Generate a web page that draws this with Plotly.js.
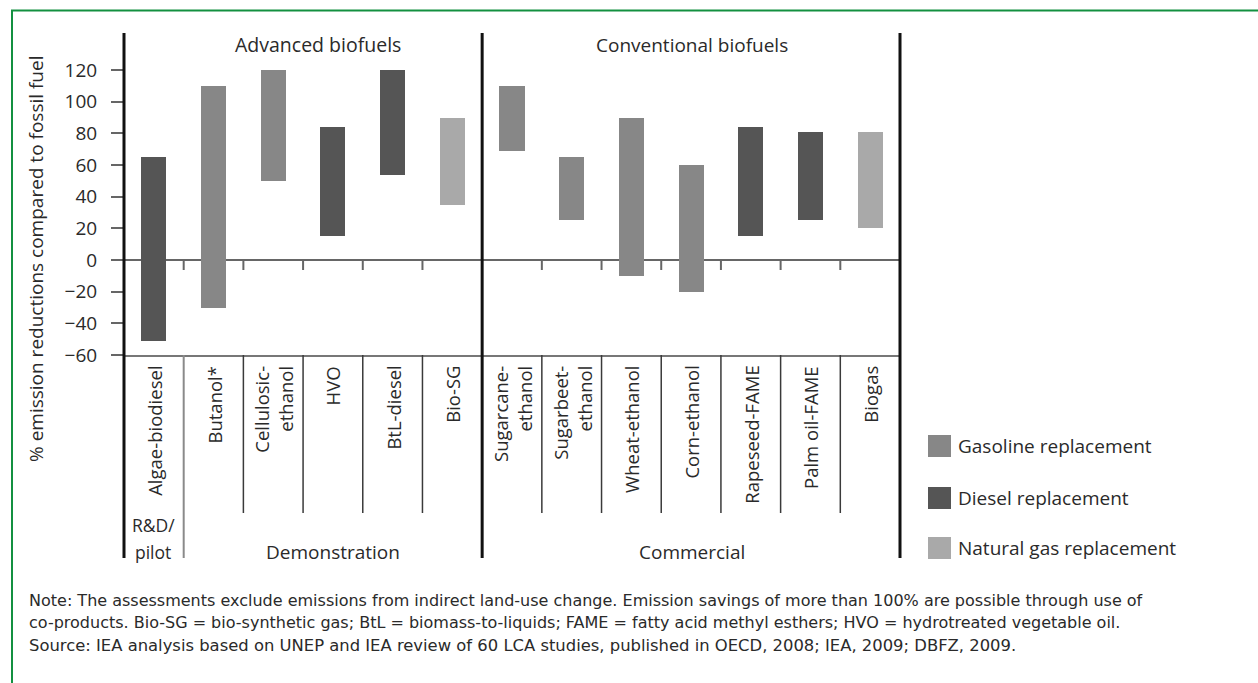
<!DOCTYPE html>
<html>
<head>
<meta charset="utf-8">
<script src="https://cdn.plot.ly/plotly-3.0.1.min.js"></script>
<style>html,body{margin:0;padding:0;background:#fff;}#chart{width:1258px;height:683px;}</style>
</head>
<body>
<div id="chart"></div>
<script>
// ---- data ----
const categories = ['Algae-biodiesel', 'Butanol*', 'Cellulosic-<br>ethanol', 'HVO', 'BtL-diesel', 'Bio-SG',
  'Sugarcane-<br>ethanol', 'Sugarbeet-<br>ethanol', 'Wheat-ethanol', 'Corn-ethanol', 'Rapeseed-FAME', 'Palm oil-FAME', 'Biogas'];
const lowValues  = [-51, -30, 50, 15, 54, 35, 69, 25, -10, -20, 15, 25, 20];
const highValues = [65, 110, 120, 84, 120, 90, 110, 65, 90, 60, 84, 81, 81];
const fuelType = ['Diesel', 'Gasoline', 'Gasoline', 'Diesel', 'Diesel', 'Natural gas',
  'Gasoline', 'Gasoline', 'Gasoline', 'Gasoline', 'Diesel', 'Diesel', 'Natural gas'];
const seriesNames = ['Gasoline', 'Diesel', 'Natural gas'];
const legendLabels = ['Gasoline replacement', 'Diesel replacement', 'Natural gas replacement'];
const yTickValues = [-60, -40, -20, 0, 20, 40, 60, 80, 100, 120];
const groupTitles = ['Advanced biofuels', 'Conventional biofuels'];
const stageLabels = ['R&D/', 'pilot', 'Demonstration', 'Commercial'];
const noteLines = [
  'Note: The assessments exclude emissions from indirect land-use change. Emission savings of more than 100% are possible through use of',
  'co-products. Bio-SG = bio-synthetic gas; BtL = biomass-to-liquids; FAME = fatty acid methyl esthers; HVO = hydrotreated vegetable oil.',
  'Source: IEA analysis based on UNEP and IEA review of 60 LCA studies, published in OECD, 2008; IEA, 2009; DBFZ, 2009.'
];

// ---- styles / layout helpers ----
const colors = {'Gasoline': '#878787', 'Diesel': '#555555', 'Natural gas': '#a9a9a9'};
const FONT = 'Open Sans, Noto Sans, sans-serif';
const NOTEFONT = 'DejaVu Sans, sans-serif';
const TXT = '#2a2a2a';
const L = 124, R = 900, T = 33, B = 355;
const PX = p => (p - L) / (R - L);
const PY = p => (B - p) / (B - T);
const nCat = categories.length;

const traces = seriesNames.map(name => {
  const xs = [], ys = [], bases = [];
  categories.forEach((c, i) => {
    if (fuelType[i] === name) {
      xs.push(i);
      bases.push(lowValues[i]);
      ys.push(highValues[i] - lowValues[i]);
    }
  });
  return {
    type: 'bar', name: name, x: xs, y: ys, base: bases, width: 0.42,
    marker: {color: colors[name], line: {width: 0}},
    showlegend: false, hoverinfo: 'skip'
  };
});

const shapes = [];
const annotations = [];

// green frame
shapes.push({type: 'rect', xref: 'paper', yref: 'paper', x0: PX(12), x1: PX(1262), y0: PY(10.5), y1: PY(700),
  line: {color: '#139040', width: 2}, fillcolor: 'rgba(0,0,0,0)', layer: 'below'});

// main vertical lines (axis, divider, right)
[0, 6, 13].forEach(k => {
  shapes.push({type: 'line', xref: 'paper', yref: 'paper', x0: k / nCat, x1: k / nCat, y0: 1, y1: PY(558),
    line: {color: '#111', width: 3}});
});
// separator after R&D column
shapes.push({type: 'line', xref: 'paper', yref: 'paper', x0: 1 / nCat, x1: 1 / nCat, y0: 0, y1: PY(558),
  line: {color: '#8a8a8a', width: 2}});
// label separators and zero-line ticks
for (let k = 1; k < nCat; k++) {
  if (k === 6) continue;
  if (k !== 1) {
    shapes.push({type: 'line', xref: 'paper', yref: 'paper', x0: k / nCat, x1: k / nCat, y0: 0, y1: PY(513),
      line: {color: '#3a3a3a', width: 1.5}});
  }
  shapes.push({type: 'line', xref: 'paper', yref: 'paper', x0: k / nCat, x1: k / nCat, y0: PY(260), y1: PY(270),
    line: {color: '#666', width: 2}, layer: 'below'});
}

// category labels
categories.forEach((c, i) => {
  annotations.push({xref: 'x', yref: 'paper', x: i, y: PY(364), text: c, textangle: -90,
    xanchor: 'center', yanchor: 'top', align: 'right', showarrow: false,
    font: {family: FONT, size: 18.5, color: TXT}});
});

// group titles
annotations.push({xref: 'paper', yref: 'paper', x: PX(318), y: PY(45), text: groupTitles[0], showarrow: false,
  xanchor: 'center', yanchor: 'middle', font: {family: FONT, size: 19.5, color: TXT}});
annotations.push({xref: 'paper', yref: 'paper', x: PX(692), y: PY(45), text: groupTitles[1], showarrow: false,
  xanchor: 'center', yanchor: 'middle', font: {family: FONT, size: 19, color: TXT}});

// stage labels
annotations.push({xref: 'paper', yref: 'paper', x: PX(153), y: PY(525), text: stageLabels[0], showarrow: false,
  xanchor: 'center', yanchor: 'middle', font: {family: FONT, size: 17.5, color: TXT}});
annotations.push({xref: 'paper', yref: 'paper', x: PX(153), y: PY(552), text: stageLabels[1], showarrow: false,
  xanchor: 'center', yanchor: 'middle', font: {family: FONT, size: 17.5, color: TXT}});
annotations.push({xref: 'paper', yref: 'paper', x: PX(333), y: PY(552), text: stageLabels[2], showarrow: false,
  xanchor: 'center', yanchor: 'middle', font: {family: FONT, size: 19, color: TXT}});
annotations.push({xref: 'paper', yref: 'paper', x: PX(692), y: PY(552), text: stageLabels[3], showarrow: false,
  xanchor: 'center', yanchor: 'middle', font: {family: FONT, size: 19, color: TXT}});

// y title
annotations.push({xref: 'paper', yref: 'paper', x: PX(36), y: PY(259), text: '% emission reductions compared to fossil fuel',
  textangle: -90, showarrow: false, xanchor: 'center', yanchor: 'middle', font: {family: FONT, size: 19, color: TXT}});

// legend
const legY = [446, 498, 548];
seriesNames.forEach((name, i) => {
  shapes.push({type: 'rect', xref: 'paper', yref: 'paper', x0: PX(928), x1: PX(951), y0: PY(legY[i] - 11), y1: PY(legY[i] + 11),
    fillcolor: colors[name], line: {width: 0}});
  annotations.push({xref: 'paper', yref: 'paper', x: PX(956), y: PY(legY[i]), text: legendLabels[i], showarrow: false,
    xanchor: 'left', yanchor: 'middle', font: {family: FONT, size: 19, color: TXT}});
});

// notes
const noteY = [600, 622, 645];
const noteSize = [16, 16, 16.4];
noteLines.forEach((t, i) => {
  annotations.push({xref: 'paper', yref: 'paper', x: PX(27), y: PY(noteY[i]), text: t, showarrow: false,
    xanchor: 'left', yanchor: 'middle', font: {family: NOTEFONT, size: noteSize[i], color: TXT}});
});

const yTop = 120 + (70 - T) * (20 / 31.67);

const layout = {
  width: 1258, height: 683,
  margin: {l: L, r: 1258 - R, t: T, b: 683 - B, pad: 0},
  paper_bgcolor: '#ffffff', plot_bgcolor: '#ffffff',
  barmode: 'overlay', bargap: 0,
  showlegend: false,
  xaxis: {range: [-0.5, nCat - 0.5], showgrid: false, zeroline: false, showticklabels: false, ticks: '',
    showline: true, linecolor: '#777', linewidth: 1.5, fixedrange: true},
  yaxis: {range: [-60, yTop], tickvals: yTickValues, showgrid: false, zeroline: true, zerolinecolor: '#666', zerolinewidth: 2,
    ticks: 'outside', ticklen: 12, tickwidth: 2, tickcolor: '#666', ticklabelstandoff: 10,
    tickfont: {family: FONT, size: 19, color: TXT}, showline: false, fixedrange: true},
  shapes: shapes,
  annotations: annotations
};

Plotly.newPlot('chart', traces, layout, {staticPlot: true, displayModeBar: false});
</script>
</body>
</html>
